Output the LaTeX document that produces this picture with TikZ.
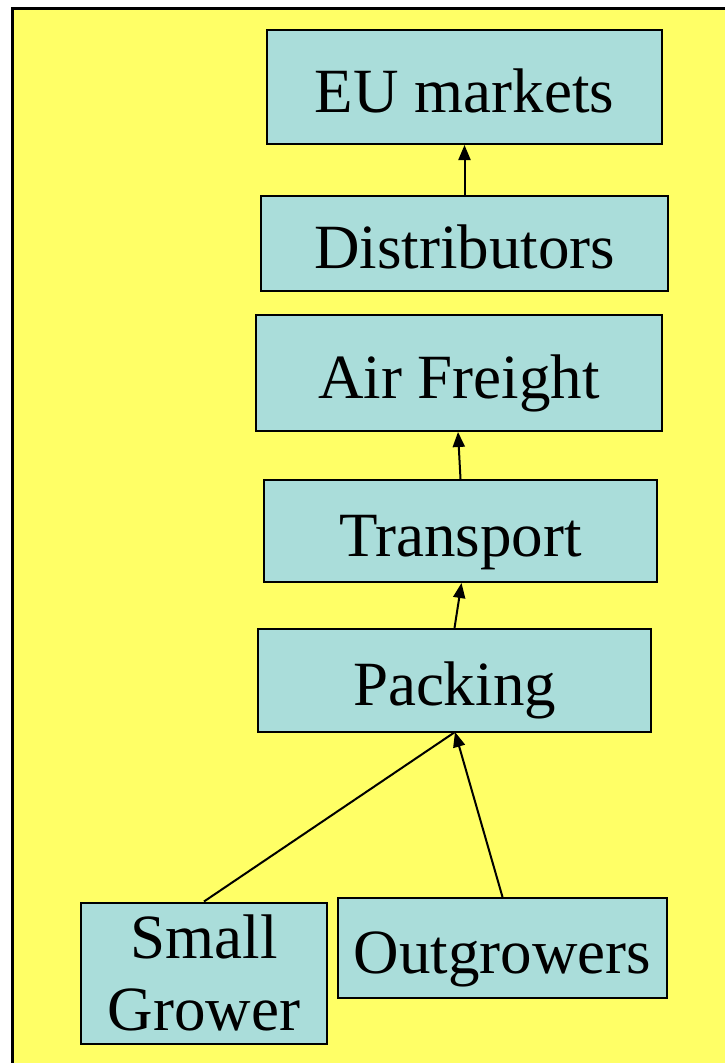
\documentclass[tikz,border=0pt]{standalone}
\usepackage{fontspec}
\setmainfont{Liberation Serif}
\usetikzlibrary{arrows.meta}
\definecolor{panel}{RGB}{255,255,102}
\definecolor{boxfill}{RGB}{170,221,218}
\tikzset{
  chainbox/.style={draw=black, line width=2pt, fill=boxfill, inner sep=0pt,
    align=center, font=\fontsize{63}{72}\selectfont},
  oneline/.style={text height=50pt, text depth=0pt},
  flow/.style={line width=2pt, -{Triangle[length=15pt,width=12pt]}},
  plainflow/.style={line width=2pt}
}
\begin{document}
\begin{tikzpicture}[x=1pt,y=-1pt]
  \useasboundingbox (0,0) rectangle (725,1063);
  % yellow panel, open on the right and bottom
  \fill[panel] (12,8) rectangle (730,1070);
  \draw[line width=3pt] (12,1070) -- (12,8) -- (730,8);

  % boxes of the chain
  \node[chainbox, oneline, minimum width=395pt, minimum height=114pt] (eu)    at (464.5,87)  {EU markets};
  \node[chainbox, oneline, minimum width=407pt, minimum height=95pt]  (dist)  at (464.5,243.5) {Distributors};
  \node[chainbox, oneline, minimum width=406pt, minimum height=116pt] (air)   at (459,373)   {Air Freight};
  \node[chainbox, oneline, minimum width=393pt, minimum height=102pt] (trans) at (460.5,531) {Transport};
  \node[chainbox, oneline, minimum width=393pt, minimum height=103pt] (pack)  at (454.5,680.5) {Packing};
  \node[chainbox, minimum width=246pt, minimum height=141pt] (small) at (204,973) {Small\\Grower};
  \node[chainbox, oneline, minimum width=329pt, minimum height=100pt] (out)   at (502.5,948) {Outgrowers};

  % connectors
  \coordinate (packfoot) at (455,732);
  \draw[flow] (dist.north) -- (eu.south);
  \draw[flow] (trans.north) -- ([xshift=-1pt]air.south);
  \draw[flow] (pack.north) -- ([xshift=1pt]trans.south);
  \draw[flow] (out.north) -- (packfoot);
  \draw[plainflow] (small.north) -- (packfoot);
\end{tikzpicture}
\end{document}
